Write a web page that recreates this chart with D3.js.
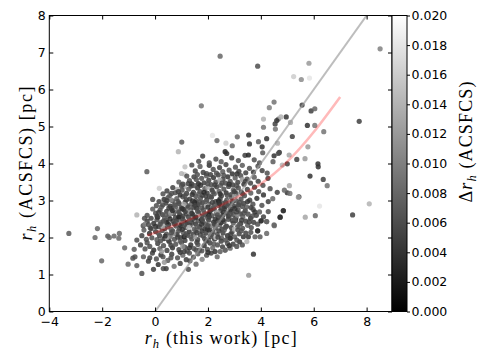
<!DOCTYPE html>
<html>
<head>
<meta charset="utf-8">
<script src="https://cdnjs.cloudflare.com/ajax/libs/d3/7.8.5/d3.min.js"></script>
<style>
body { margin: 0; background: #fff; }
.tick text { font-family: "DejaVu Sans", sans-serif; font-size: 12.5px; fill: #000; }
.tick line { stroke: #000; }
.lbl { font-family: "Liberation Serif", serif; font-size: 18px; fill: #000; }
</style>
</head>
<body>
<div id="chart"></div>
<script>
// tick values
var xTicks = [-4, -2, 0, 2, 4, 6, 8];
var yTicks = [0, 1, 2, 3, 4, 5, 6, 7, 8];
var cbTicks = [0, 0.002, 0.004, 0.006, 0.008, 0.010, 0.012, 0.014, 0.016, 0.018, 0.020];

// one-to-one line and fitted relation
var oneToOne = [0, 9];
var fitX = [-0.3, 0, 1, 2, 3, 4, 5, 6, 7];
var fitY = [2.05, 2.13, 2.4, 2.7, 3.05, 3.45, 4.05, 4.85, 5.8];

// clusters: [r_h this work, r_h ACSFCS, delta r_h]
var mainBody = [
 [-0.50,1.03,.006],[-0.69,1.24,.007],[-0.06,1.14,.005],[0.31,1.16,.006],[0.42,1.16,.005],[1.26,1.14,.006],[0.12,1.27,.004],[0.72,1.22,.009],[1.55,1.28,.008],[0.95,1.30,.005],[1.32,1.37,.006],
 [-0.84,1.44,.006],[-0.44,1.48,.007],[-0.76,1.48,.006],[-0.25,1.36,.005],[0.05,1.42,.006],[0.22,1.53,.004],[0.48,1.38,.007],[0.63,1.55,.005],[0.85,1.45,.006],[1.05,1.52,.008],[1.18,1.40,.005],[1.45,1.47,.006],[1.62,1.56,.007],[1.78,1.41,.010],[1.95,1.52,.006],[2.12,1.58,.005],[2.35,1.48,.008],[0.35,1.33,.012],[-0.10,1.58,.005],[0.95,1.60,.004],[1.30,1.58,.006],
 [-0.38,1.69,.006],[-0.79,1.68,.007],[-0.55,1.80,.005],[-0.20,1.76,.006],[-0.05,1.66,.004],[0.10,1.84,.005],[0.18,1.70,.007],[0.32,1.78,.006],[0.45,1.65,.005],[0.55,1.88,.008],[0.66,1.72,.004],[0.78,1.82,.006],[0.90,1.67,.005],[1.00,1.86,.007],[1.12,1.74,.005],[1.22,1.63,.006],[1.35,1.80,.004],[1.47,1.70,.006],[1.58,1.87,.005],[1.68,1.66,.007],[1.77,1.64,.006],[1.86,1.78,.004],[1.98,1.68,.006],[2.08,1.85,.005],[2.18,1.72,.008],[2.27,1.62,.004],[2.36,1.80,.006],[2.46,1.62,.007],[2.55,1.75,.005],[2.65,1.66,.007],[2.74,1.84,.006],[2.84,1.71,.008],[2.95,1.82,.005],[3.09,1.76,.006],[3.20,1.88,.004],[3.47,1.89,.014],[0.25,1.62,.012],[1.05,1.76,.011],[-0.30,1.86,.006],
 [-0.69,1.93,.006],[-0.42,2.20,.007],[-0.50,2.05,.005],[-0.33,1.95,.006],[-0.21,2.11,.004],[-0.12,1.99,.006],[0.02,2.16,.005],[0.07,1.94,.007],[0.17,2.05,.005],[0.27,2.19,.006],[0.34,1.97,.004],[0.43,2.09,.006],[0.51,1.91,.005],[0.57,2.03,.008],[0.67,2.17,.005],[0.73,1.95,.006],[0.83,2.08,.004],[0.89,2.18,.006],[0.97,2.00,.005],[1.07,2.13,.007],[1.13,1.92,.005],[1.23,2.06,.006],[1.29,2.16,.004],[1.39,1.96,.006],[1.45,2.09,.005],[1.55,2.19,.007],[1.61,1.94,.005],[1.71,2.07,.006],[1.77,2.17,.004],[1.87,1.97,.006],[1.93,2.12,.005],[2.03,1.92,.007],[2.09,2.03,.005],[2.19,2.15,.006],[2.25,1.96,.004],[2.35,2.08,.006],[2.41,2.18,.005],[2.51,1.99,.007],[2.57,2.12,.005],[2.67,1.93,.006],[2.74,2.05,.004],[2.84,1.98,.006],[2.91,2.15,.005],[3.01,2.02,.007],[3.09,1.93,.006],[3.18,2.10,.005],[3.26,2.18,.006],[3.34,2.02,.004],[3.53,2.02,.004],[3.62,2.14,.006],[3.78,2.02,.007],[3.97,2.02,.007],[3.88,2.18,.004],[4.22,2.11,.008],[0.45,2.00,.013],[1.50,2.02,.012],[2.30,2.00,.015],[0.70,2.10,.011],[2.05,2.20,.003],[1.10,2.02,.003],
 [-0.45,2.32,.006],[-0.30,2.44,.005],[-0.18,2.26,.007],[-0.05,2.38,.004],[0.07,2.48,.006],[0.14,2.29,.005],[0.23,2.41,.008],[0.37,2.24,.005],[0.41,2.47,.006],[0.52,2.35,.004],[0.61,2.22,.007],[0.68,2.44,.005],[0.79,2.31,.006],[0.86,2.49,.004],[0.93,2.25,.006],[1.01,2.38,.005],[1.09,2.46,.007],[1.16,2.27,.005],[1.21,2.40,.003],[1.33,2.33,.006],[1.40,2.48,.005],[1.48,2.23,.007],[1.53,2.37,.004],[1.64,2.45,.006],[1.69,2.28,.005],[1.81,2.42,.006],[1.88,2.24,.004],[1.92,2.36,.007],[2.03,2.47,.005],[2.09,2.30,.006],[2.21,2.41,.004],[2.28,2.26,.006],[2.37,2.46,.005],[2.44,2.34,.007],[2.53,2.23,.005],[2.61,2.43,.006],[2.70,2.31,.004],[2.77,2.49,.006],[2.88,2.27,.005],[2.96,2.39,.007],[3.05,2.46,.005],[3.12,2.29,.006],[3.24,2.38,.004],[3.31,2.25,.006],[3.43,2.44,.005],[3.50,2.33,.007],[3.64,2.27,.006],[3.73,2.41,.005],[3.88,2.36,.006],[4.01,2.45,.004],[4.22,2.43,.006],[4.51,2.32,.008],[0.30,2.30,.013],[1.27,2.27,.015],[2.15,2.33,.012],[3.00,2.23,.014],[0.99,2.47,.011],[1.75,2.49,.003],[2.57,2.48,.004],[-0.38,2.36,.010],[0.45,2.40,.003],
 [-0.69,2.61,.014],[-0.09,2.77,.007],[-0.30,2.60,.006],[-0.15,2.52,.005],[0.02,2.66,.006],[0.10,2.55,.004],[0.19,2.74,.006],[0.28,2.62,.005],[0.36,2.53,.007],[0.44,2.71,.005],[0.53,2.59,.006],[0.62,2.78,.004],[0.70,2.65,.006],[0.77,2.54,.005],[0.85,2.72,.008],[0.94,2.61,.005],[1.03,2.51,.006],[1.08,2.76,.004],[1.19,2.64,.006],[1.26,2.56,.005],[1.35,2.73,.007],[1.43,2.62,.005],[1.50,2.52,.006],[1.57,2.79,.004],[1.66,2.67,.006],[1.74,2.57,.005],[1.83,2.74,.007],[1.90,2.61,.005],[1.99,2.53,.006],[2.07,2.70,.004],[2.14,2.59,.006],[2.24,2.77,.005],[2.31,2.64,.007],[2.40,2.54,.005],[2.47,2.72,.006],[2.56,2.60,.004],[2.63,2.78,.006],[2.72,2.66,.005],[2.80,2.55,.007],[2.89,2.71,.005],[2.97,2.62,.006],[3.06,2.53,.004],[3.14,2.75,.006],[3.23,2.64,.005],[3.32,2.56,.007],[3.41,2.73,.005],[3.52,2.63,.006],[3.61,2.52,.004],[3.71,2.76,.006],[3.83,2.60,.005],[3.95,2.69,.007],[4.28,2.70,.006],[4.73,2.55,.003],[4.85,2.73,.004],[0.58,2.66,.012],[1.62,2.58,.014],[2.35,2.68,.013],[3.10,2.60,.011],[0.90,2.56,.003],[2.02,2.63,.003],[2.85,2.76,.004],[1.30,2.69,.012],[4.10,2.56,.005],
 [-0.09,3.03,.006],[0.34,3.03,.004],[0.05,2.86,.006],[0.15,2.97,.005],[0.24,2.83,.007],[0.41,2.93,.005],[0.49,3.08,.006],[0.57,2.85,.004],[0.66,2.99,.006],[0.74,2.88,.005],[0.82,3.05,.007],[0.91,2.92,.005],[0.99,2.81,.006],[1.05,3.10,.006],[1.14,2.96,.004],[1.22,2.86,.006],[1.31,3.04,.005],[1.38,2.91,.007],[1.46,2.82,.005],[1.55,3.00,.006],[1.63,2.89,.004],[1.72,3.07,.006],[1.80,2.94,.005],[1.87,2.84,.007],[1.96,3.02,.005],[2.04,2.90,.006],[2.13,3.09,.004],[2.20,2.81,.006],[2.29,2.97,.005],[2.38,2.87,.007],[2.46,3.05,.005],[2.55,2.93,.006],[2.63,2.83,.004],[2.71,3.01,.006],[2.80,2.90,.005],[2.89,3.08,.007],[2.98,2.85,.005],[3.07,2.99,.006],[3.16,2.88,.004],[3.25,3.04,.006],[3.35,2.92,.005],[3.46,2.83,.007],[3.58,3.01,.005],[3.70,2.90,.006],[3.85,3.06,.004],[4.04,2.87,.006],[4.28,2.97,.005],[4.45,3.05,.008],[1.10,2.90,.013],[1.95,2.86,.015],[2.75,2.96,.012],[0.60,3.02,.011],[1.50,2.95,.003],[2.40,2.99,.003],
 [0.16,3.33,.016],[0.84,3.30,.014],[1.10,3.37,.013],[1.36,3.39,.004],[0.30,3.18,.006],[0.45,3.26,.005],[0.56,3.14,.007],[0.67,3.35,.005],[0.76,3.21,.006],[0.95,3.15,.004],[1.02,3.28,.006],[1.19,3.19,.005],[1.27,3.31,.007],[1.45,3.22,.005],[1.54,3.12,.006],[1.61,3.34,.004],[1.70,3.24,.006],[1.79,3.14,.005],[1.88,3.32,.007],[1.97,3.20,.005],[2.06,3.11,.006],[2.15,3.29,.004],[2.24,3.18,.006],[2.33,3.37,.005],[2.42,3.25,.007],[2.51,3.13,.005],[2.60,3.31,.006],[2.69,3.21,.004],[2.78,3.38,.006],[2.87,3.16,.005],[2.96,3.28,.007],[3.06,3.19,.005],[3.15,3.34,.006],[3.26,3.23,.004],[3.38,3.13,.006],[3.49,3.30,.005],[3.62,3.20,.007],[3.76,3.36,.005],[3.92,3.24,.006],[4.10,3.15,.004],[4.35,3.32,.006],[4.62,3.22,.005],[2.00,3.36,.013],[3.00,3.12,.012],[1.85,3.22,.003],
 [1.30,3.54,.006],[1.47,3.64,.005],[1.64,3.46,.003],[1.76,3.60,.006],[1.11,3.71,.016],[0.90,3.50,.007],[1.05,3.44,.005],[1.20,3.66,.006],[1.38,3.45,.004],[1.56,3.57,.006],[1.85,3.48,.005],[1.94,3.67,.007],[2.03,3.55,.005],[2.12,3.43,.006],[2.21,3.62,.004],[2.30,3.50,.006],[2.39,3.69,.005],[2.48,3.41,.007],[2.57,3.58,.005],[2.66,3.47,.006],[2.75,3.64,.004],[2.84,3.52,.006],[2.94,3.42,.005],[3.03,3.61,.007],[3.13,3.49,.005],[3.24,3.67,.006],[3.36,3.44,.004],[3.48,3.58,.006],[3.61,3.47,.005],[3.75,3.63,.007],[3.90,3.52,.005],[4.08,3.41,.006],[4.27,3.60,.005],[2.45,3.55,.013],[3.30,3.57,.012],
 [1.39,3.96,.006],[1.13,3.91,.015],[1.95,3.73,.006],[2.20,3.84,.006],[1.52,3.80,.005],[1.70,3.92,.007],[1.82,3.76,.005],[2.05,3.95,.004],[2.32,3.74,.006],[2.44,3.89,.005],[2.56,3.78,.007],[2.68,3.97,.005],[2.80,3.82,.006],[2.92,3.72,.004],[3.04,3.90,.006],[3.17,3.79,.005],[3.30,3.95,.007],[3.43,3.75,.005],[3.57,3.87,.006],[3.72,3.77,.004],[3.89,3.93,.006],[4.05,3.81,.005],[4.24,3.74,.006],[1.00,3.73,.014],
 [1.65,4.06,.006],[2.05,4.02,.006],[2.65,4.32,.003],[2.71,4.27,.004],[1.80,4.20,.005],[2.30,4.12,.006],[2.50,4.05,.007],[2.90,4.15,.005],[3.15,4.08,.006],[3.40,4.22,.005],[3.53,4.23,.003],[3.75,4.10,.006],[4.05,4.45,.004],[4.07,4.29,.007],[4.50,4.21,.004],[4.70,4.30,.004],[4.46,4.05,.007],[5.07,4.23,.013],[3.95,4.02,.006],[4.66,4.27,.006]
];

// second, denser layer of the core
var coreExtra = [
 [0.21,1.91,.006],[0.60,1.79,.005],[0.95,1.90,.007],[1.30,1.72,.004],[1.62,1.81,.006],[1.93,1.90,.005],[2.22,1.83,.007],[2.50,1.90,.005],[2.80,1.78,.004],[3.30,1.80,.006],
 [-0.15,2.24,.005],[0.12,2.12,.007],[0.38,2.04,.004],[0.62,2.13,.006],[0.86,2.01,.005],[1.03,2.22,.004],[1.18,2.10,.006],[1.35,2.02,.007],[1.58,2.13,.005],[1.82,2.04,.006],[1.98,2.23,.004],[2.14,2.08,.006],[2.38,2.01,.005],[2.62,2.21,.007],[2.86,2.09,.005],[3.13,2.21,.006],[3.43,2.12,.005],
 [-0.25,2.35,.006],[0.02,2.30,.004],[0.19,2.36,.006],[0.47,2.29,.007],[0.73,2.37,.005],[0.97,2.32,.004],[1.12,2.35,.006],[1.37,2.41,.005],[1.59,2.31,.007],[1.76,2.36,.004],[2.00,2.33,.006],[2.25,2.36,.005],[2.49,2.40,.004],[2.66,2.28,.006],[2.92,2.46,.005],[3.18,2.35,.007],[3.56,2.42,.005],
 [-0.40,2.52,.006],[0.07,2.58,.005],[0.32,2.44,.006],[0.57,2.50,.004],[0.80,2.42,.006],[1.06,2.58,.005],[1.30,2.47,.007],[1.54,2.55,.004],[1.79,2.49,.006],[2.05,2.56,.005],[2.27,2.50,.004],[2.52,2.53,.006],[2.77,2.58,.005],[3.01,2.50,.007],[3.27,2.47,.005],[3.68,2.58,.006],
 [0.14,2.68,.005],[0.40,2.62,.007],[0.66,2.73,.004],[0.90,2.68,.006],[1.14,2.70,.005],[1.39,2.65,.004],[1.61,2.71,.006],[1.87,2.66,.007],[2.11,2.74,.005],[2.36,2.61,.006],[2.59,2.69,.004],[2.84,2.63,.006],[3.08,2.69,.005],[3.36,2.66,.006],[3.77,2.69,.004],
 [0.29,2.88,.006],[0.52,2.80,.005],[0.78,2.84,.007],[1.02,2.78,.004],[1.26,2.82,.006],[1.51,2.87,.005],[1.76,2.80,.006],[2.00,2.82,.004],[2.24,2.88,.007],[2.50,2.80,.005],[2.76,2.86,.006],[3.02,2.79,.004],[3.30,2.84,.006],[3.63,2.81,.005],
 [0.45,3.00,.005],[0.87,2.97,.006],[1.18,3.02,.005],[1.42,2.99,.004],[1.68,2.96,.006],[1.91,2.97,.007],[2.17,2.95,.005],[2.43,2.92,.004],[2.67,2.95,.006],[2.93,2.97,.005],[3.20,2.95,.006],[3.50,2.97,.004],
 [0.62,3.19,.006],[0.88,3.24,.005],[1.13,3.13,.006],[1.40,3.16,.004],[1.65,3.18,.007],[1.92,3.12,.005],[2.19,3.23,.006],[2.46,3.18,.004],[2.73,3.14,.006],[3.00,3.24,.005],[3.31,3.18,.006],
 [1.00,3.40,.006],[1.25,3.46,.005],[1.50,3.40,.006],[1.72,3.41,.004],[1.99,3.45,.006],[2.26,3.42,.005],[2.53,3.47,.006],[2.80,3.44,.004],[3.08,3.40,.006],[3.42,3.52,.005],
 [1.60,3.70,.006],[2.10,3.70,.005],[2.60,3.68,.006],[3.10,3.72,.004],
 [0.60,1.45,.006],[1.10,1.62,.005],[1.55,1.66,.006],[2.00,1.60,.004],[0.30,1.48,.006],[-0.20,1.45,.005]
];

var outliersHigh = [
 [-0.31,3.78,.007],[1.01,4.58,.007],[0.88,4.32,.014],[2.17,4.76,.018],[2.34,4.62,.008],[2.68,4.55,.016],[2.92,4.48,.008],[3.11,4.72,.008],[3.54,4.77,.004],[3.57,4.53,.004],[3.91,4.59,.007],[4.22,4.67,.004],[4.63,4.55,.014],
 [2.46,6.90,.008],[1.75,5.56,.009],[3.88,6.63,.006],[5.82,6.71,.012],[8.51,7.10,.010],[5.24,6.35,.016],[5.53,6.27,.011],[5.84,6.31,.018],
 [4.50,5.66,.009],[4.32,5.51,.010],[5.56,5.58,.005],[5.90,5.42,.005],[6.04,5.48,.008],[7.72,5.14,.005],[4.10,5.20,.014],[4.66,5.20,.009],[4.60,5.16,.004],[4.96,5.26,.004],[4.76,5.26,.014],[4.54,5.07,.005],[5.12,5.11,.013],[5.76,5.03,.004],[6.04,5.03,.009],[6.38,4.86,.009],[4.55,4.93,.009],[4.10,4.98,.009],[5.19,4.73,.005],[5.78,4.45,.012],
 [4.81,3.96,.014],[5.00,3.99,.005],[5.36,4.11,.005],[5.67,4.13,.012],[6.16,3.99,.004],[6.17,3.91,.004],[5.86,3.66,.004],[6.36,3.57,.005],[6.51,3.40,.009],[5.44,3.10,.004],[5.08,3.40,.013],[5.00,3.21,.004],[4.89,3.28,.008],[5.10,3.19,.009],[5.42,3.09,.012],
 [6.22,2.85,.018],[8.10,2.91,.014],[7.47,2.61,.005],[6.06,2.59,.008],[5.68,2.55,.013],[4.85,2.72,.004],[4.73,2.55,.004],[4.50,2.34,.008],[4.22,2.43,.008],[4.01,2.45,.004],[3.88,2.18,.004],[3.72,1.55,.004],[3.54,0.98,.012],[2.84,1.98,.004],[2.65,1.66,.008]
];

var outliersLeft = [
 [-3.26,2.11,.007],[-2.27,2.00,.008],[-2.18,2.24,.008],[-2.02,1.37,.008],[-1.79,2.04,.007],[-1.73,2.00,.008],[-1.55,2.04,.008],[-1.37,1.98,.008],[-1.35,2.11,.008],[-1.15,1.72,.008],[-1.02,1.28,.008]
];

function init(){

    var W = 485, H = 364;
    var margin = {top: 15.5, left: 49.3, right: 93, bottom: 52.5};
    var w = W - margin.left - margin.right,
        h = H - margin.top - margin.bottom;

    var xScale = d3.scaleLinear().domain([-4, 8.96]).range([0, w]);
    var yScale = d3.scaleLinear().domain([0, 8]).range([h, 0]);
    var cScale = d3.scaleLinear().domain([0, 0.02]).range([h, 0]);
    var grey = function(d){
        var v = Math.round(255 * Math.max(0, Math.min(1, d / 0.02)));
        return "rgb(" + v + "," + v + "," + v + ")";
    };

    var svg = d3.select("#chart").append("svg")
        .attr("width", W)
        .attr("height", H)
        .style("background", "#fff");

    var g = svg.append("g")
        .attr("transform", "translate(" + margin.left + "," + margin.top + ")");

    g.append("defs").append("clipPath")
        .attr("id", "clip")
        .append("rect")
        .attr("width", w)
        .attr("height", h);

    // points
    var all = mainBody.concat(coreExtra, outliersHigh, outliersLeft);
    g.append("g")
        .attr("clip-path", "url(#clip)")
        .selectAll("circle")
        .data(all)
        .enter().append("circle")
        .attr("cx", function(d){ return xScale(d[0]); })
        .attr("cy", function(d){ return yScale(d[1]); })
        .attr("r", 2.6)
        .attr("fill", function(d){ return grey(d[2]); })
        .attr("fill-opacity", 0.85);

    // 1:1 line
    g.append("line")
        .attr("clip-path", "url(#clip)")
        .attr("x1", xScale(oneToOne[0])).attr("y1", yScale(oneToOne[0]))
        .attr("x2", xScale(oneToOne[1])).attr("y2", yScale(oneToOne[1]))
        .attr("stroke", "#999")
        .attr("stroke-opacity", 0.65)
        .attr("stroke-width", 2);

    // fit curve
    var fitLine = d3.line()
        .x(function(d, i){ return xScale(fitX[i]); })
        .y(function(d){ return yScale(d); })
        .curve(d3.curveNatural);

    g.append("path")
        .datum(fitY)
        .attr("d", fitLine)
        .attr("fill", "none")
        .attr("stroke", "#ff0000")
        .attr("stroke-opacity", 0.27)
        .attr("stroke-width", 2.6);

    // axes, ticks inside
    g.append("g")
        .attr("transform", "translate(0," + h + ")")
        .call(d3.axisBottom(xScale).tickValues(xTicks).tickSize(-4).tickSizeOuter(0).tickPadding(6)
            .tickFormat(function(d){ return d < 0 ? "\u2212" + Math.abs(d) : d; }))
        .select(".domain").remove();
    g.append("g")
        .call(d3.axisTop(xScale).tickValues(xTicks).tickSize(-4).tickFormat(""))
        .select(".domain").remove();
    g.append("g")
        .call(d3.axisLeft(yScale).tickValues(yTicks).tickSize(-4).tickPadding(3.5))
        .select(".domain").remove();
    g.append("g")
        .attr("transform", "translate(" + w + ",0)")
        .call(d3.axisRight(yScale).tickValues(yTicks).tickSize(-4).tickFormat(""))
        .select(".domain").remove();

    g.append("rect")
        .attr("width", w)
        .attr("height", h)
        .attr("fill", "none")
        .attr("stroke", "#000")
        .attr("stroke-width", 1);

    // colorbar
    var cbW = 15;
    var grad = g.select("defs").append("linearGradient")
        .attr("id", "cbgrad")
        .attr("x1", 0).attr("y1", 1).attr("x2", 0).attr("y2", 0);
    grad.append("stop").attr("offset", "0%").attr("stop-color", "#000");
    grad.append("stop").attr("offset", "100%").attr("stop-color", "#fff");

    var cb = g.append("g")
        .attr("transform", "translate(" + w + ",0)");
    cb.append("rect")
        .attr("width", cbW)
        .attr("height", h)
        .attr("fill", "url(#cbgrad)")
        .attr("stroke", "#000")
        .attr("stroke-width", 1);
    cb.append("g")
        .attr("transform", "translate(" + cbW + ",0)")
        .call(d3.axisRight(cScale).tickValues(cbTicks).tickSize(3).tickPadding(1.5).tickFormat(d3.format(".3f")))
        .select(".domain").remove();

    // labels
    var xl = svg.append("text")
        .attr("class", "lbl")
        .attr("x", margin.left + w / 2)
        .attr("y", 344)
        .attr("text-anchor", "middle")
        .attr("textLength", 152)
        .attr("lengthAdjust", "spacing");
    xl.append("tspan").attr("font-style", "italic").text("r");
    xl.append("tspan").attr("font-style", "italic").attr("font-size", 12.5).attr("dy", 3.5).text("h");
    xl.append("tspan").attr("dy", -3.5).text(" (this work) [pc]");

    var yl = svg.append("text")
        .attr("class", "lbl")
        .attr("transform", "translate(32," + (margin.top + h / 2) + ") rotate(-90)")
        .attr("text-anchor", "middle")
        .attr("textLength", 154)
        .attr("lengthAdjust", "spacing");
    yl.append("tspan").attr("font-style", "italic").text("r");
    yl.append("tspan").attr("font-style", "italic").attr("font-size", 12.5).attr("dy", 3.5).text("h");
    yl.append("tspan").attr("dy", -3.5).text(" (ACSFCS) [pc]");

    var cl = svg.append("text")
        .attr("class", "lbl")
        .attr("transform", "translate(472,142) rotate(-90)")
        .attr("text-anchor", "middle")
        .attr("textLength", 121)
        .attr("lengthAdjust", "spacing");
    cl.append("tspan").text("\u0394");
    cl.append("tspan").attr("font-style", "italic").text("r");
    cl.append("tspan").attr("font-style", "italic").attr("font-size", 12.5).attr("dy", 3.5).text("h");
    cl.append("tspan").attr("dy", -3.5).text(" (ACSFCS)");
}

window.onload = init;
</script>
</body>
</html>
